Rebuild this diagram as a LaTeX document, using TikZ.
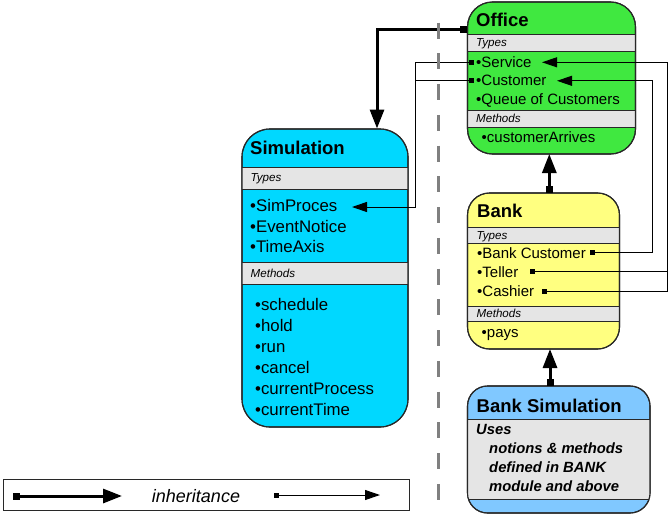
\documentclass[tikz,border=0pt]{standalone}
\usepackage{fontspec}
\setmainfont{Liberation Sans}
\usetikzlibrary{arrows.meta}

\definecolor{officegreen}{RGB}{64,232,64}
\definecolor{simcyan}{RGB}{0,216,255}
\definecolor{bankyellow}{RGB}{255,255,128}
\definecolor{banksimblue}{RGB}{128,200,255}
\definecolor{bandgray}{RGB}{229,229,229}
\definecolor{edgegray}{RGB}{40,40,40}
\definecolor{splitgray}{RGB}{128,128,128}

% header band of a module box: fill plus the two separating rules
\newcommand\modband[4]{%
  \fill[bandgray] (#1,#3) rectangle (#2,#4);
  \draw[sepline] (#1,#3) -- (#2,#3) (#1,#4) -- (#2,#4);}

\begin{document}
\begin{tikzpicture}[x=1pt,y=-1pt,
  shell/.style={draw=edgegray, line width=1.1pt, inner sep=0pt, outer sep=0pt, anchor=north west},
  sepline/.style={draw=edgegray, line width=0.9pt},
  ttl/.style={anchor=base west, inner sep=0pt, font=\fontsize{18.5}{20}\selectfont\bfseries},
  lbl/.style={anchor=base west, inner sep=0pt, font=\fontsize{11.6}{13}\selectfont\itshape},
  itm/.style={anchor=base west, inner sep=0pt, font=\fontsize{15}{17}\selectfont},
  bigitm/.style={anchor=base west, inner sep=0pt, font=\fontsize{16.8}{18}\selectfont},
  useitm/.style={anchor=base west, inner sep=0pt, font=\fontsize{14.8}{17}\selectfont\bfseries\itshape},
  heavy/.style={line width=3pt, {Square[length=7pt,width=7pt]}-{Triangle[length=19pt,width=14pt]}},
  light/.style={line width=1pt, {Square[length=5pt,width=5pt]}-{Triangle[length=15pt,width=10pt]}},
  lightsq/.style={line width=1pt, {Square[length=5pt,width=5pt]}-},
]
\useasboundingbox (0,0) rectangle (671,514);

% ---------- Office ----------
\node[shell, fill=officegreen, rounded corners=25pt, minimum width=168pt, minimum height=152pt] (office) at (467.5,2) {};
\modband{467.5}{635.5}{34}{51}
\modband{467.5}{635.5}{110}{127}
\draw[edgegray, line width=1.1pt, rounded corners=25pt] (office.north west) rectangle (office.south east);
\node[ttl] (officeT) at (476,26) {Office};
\node[lbl] (officeTy) at (476,46.5) {Types};
\node[itm] (officeSv) at (476,67.3) {•Service};
\node[itm] (officeCu) at (476,85.5) {•Customer};
\node[itm] (officeQu) at (476,104) {•Queue of Customers};
\node[lbl] (officeMe) at (476,122.5) {Methods};
\node[itm] (officeCa) at (481.5,142.7) {•customerArrives};

% ---------- Simulation ----------
\node[shell, fill=simcyan, rounded corners=28pt, minimum width=166pt, minimum height=298pt] (sim) at (242,129) {};
\modband{242}{408}{167}{189}
\modband{242}{408}{262}{284}
\draw[edgegray, line width=1.1pt, rounded corners=28pt] (sim.north west) rectangle (sim.south east);
\node[ttl] (simT) at (250,154.3) {Simulation};
\node[lbl] (simTy) at (250.5,181.7) {Types};
\node[bigitm] (simSP) at (250,211.7) {•SimProces};
\node[bigitm] (simEN) at (250,232) {•EventNotice};
\node[bigitm] (simTA) at (250,252.5) {•TimeAxis};
\node[lbl] (simMe) at (250.5,277.5) {Methods};
\node[bigitm] (simSc) at (255,310) {•schedule};
\node[bigitm] (simHo) at (255,331) {•hold};
\node[bigitm] (simRu) at (255,352) {•run};
\node[bigitm] (simCa) at (255,373) {•cancel};
\node[bigitm] (simCP) at (255,394) {•currentProcess};
\node[bigitm] (simCT) at (255,415) {•currentTime};

% ---------- Bank ----------
\node[shell, fill=bankyellow, rounded corners=22pt, minimum width=152pt, minimum height=156pt] (bank) at (467.5,193) {};
\modband{467.5}{619.5}{227}{243}
\modband{467.5}{619.5}{306}{321}
\draw[edgegray, line width=1.1pt, rounded corners=22pt] (bank.north west) rectangle (bank.south east);
\node[ttl] (bankT) at (477,217) {Bank};
\node[lbl] (bankTy) at (476.5,239) {Types};
\node[itm] (bankBC) at (477,258.3) {•Bank Customer};
\node[itm] (bankTe) at (477,277) {•Teller};
\node[itm] (bankCs) at (477,296) {•Cashier};
\node[lbl] (bankMe) at (476.5,317.7) {Methods};
\node[itm] (bankPa) at (481.5,337.5) {•pays};

% ---------- Bank Simulation ----------
\node[shell, fill=banksimblue, rounded corners=20pt, minimum width=182.5pt, minimum height=127pt] (bsim) at (467.5,386) {};
\begin{scope}
  \clip[rounded corners=20pt] (467.5,386) rectangle (650,513);
  \modband{467.5}{650}{419}{499}
\end{scope}
\draw[edgegray, line width=1.1pt, rounded corners=20pt] (bsim.north west) rectangle (bsim.south east);
\node[ttl] (bsimT) at (476.5,412) {Bank Simulation};
\node[useitm] (bsimU) at (476,434) {Uses};
\node[useitm] (bsimN) at (489,453.3) {notions \& methods};
\node[useitm] (bsimD) at (489,472.7) {defined in BANK};
\node[useitm] (bsimM) at (489,491) {module and above};

% ---------- connector end points ----------
\coordinate (offL) at (467,29);
\coordinate (simTop) at (377,128.5);
\coordinate (bankTop) at (549.3,193);
\coordinate (offBot) at (549.3,154);
\coordinate (bsimTop) at (550,386);
\coordinate (bankBot) at (550,349);

\coordinate (svcSq) at (474,62.3);
\coordinate (custSq) at (474,80.8);
\coordinate (trunkL) at (415.7,62.3);
\coordinate (simPTip) at (352,207);

\coordinate (svcTip) at (542,62.3);
\coordinate (custTip) at (557,80.8);
\coordinate (trunkR) at (667,62.3);
\coordinate (trunkM) at (652.5,80.8);
\coordinate (bcSq) at (590.2,252.5);
\coordinate (teSq) at (530.2,271.5);
\coordinate (csSq) at (541.7,291.5);

% ---------- inheritance connectors ----------
\draw[heavy] (offL) -| (simTop);
\draw[heavy] (bankTop) -- (offBot);
\draw[heavy] (bsimTop) -- (bankBot);

\draw[light] (svcSq) -- (trunkL) |- (simPTip);
\draw[lightsq] (custSq) -- (custSq -| trunkL);

\draw[light] (csSq) -| (trunkR) -- (svcTip);
\draw[lightsq] (teSq) -- (teSq -| trunkR);
\draw[light] (bcSq) -| (trunkM) -- (custTip);

% ---------- separating dashed rule ----------
\coordinate (splitTop) at (438.5,22.7);
\coordinate (splitBot) at (438.5,500);
\draw[splitgray, line width=3pt, dash pattern=on 16pt off 14.75pt] (splitTop) -- (splitBot);

% ---------- legend ----------
\node[draw=edgegray, line width=1pt, inner sep=0pt, outer sep=0pt, anchor=north west,
      minimum width=406pt, minimum height=31pt] (legend) at (3,479) {};
\coordinate (legA1) at (13,496);
\coordinate (legA2) at (122,496);
\coordinate (legB1) at (274,495);
\coordinate (legB2) at (380,495);
\draw[heavy] (legA1) -- (legA2);
\draw[light] (legB1) -- (legB2);
\node[anchor=base, inner sep=0pt, font=\fontsize{18}{20}\selectfont\itshape] (legT) at (196,502.3) {inheritance};
\end{tikzpicture}
\end{document}
